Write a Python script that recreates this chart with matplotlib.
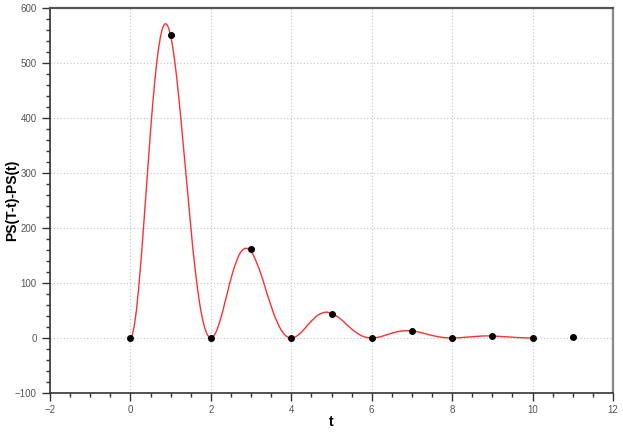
import numpy as np
import matplotlib
matplotlib.use("Agg")
import matplotlib.pyplot as plt
from matplotlib.ticker import MultipleLocator

# Observed points
t_pts = [0, 1, 2, 3, 4, 5, 6, 7, 8, 9, 10, 11]
y_pts = [0, 551, 0, 161, 0, 44, 0, 12.7, 0, 4.2, 0, 1.2]

# Curve values, t = 0 .. 10 step 0.05
curve_t_start, curve_t_step = 0.0, 0.05
curve_y = [0.0,6.1,24,51,87,129,176,226,277,327,376,422,463,498,527,549,564,571,571,564,550,530,504,474,439,402,362,321,280,240,201,164,131,100,73,50,32,17.6,7.7,1.9,0.0,1.8,6.8,14.6,25,37,50,65,79,94,108,121,132,142,151,157,161,163,163,161,157,152,144,135,126,115,104,92,80,69,58,47,37,29,21,14.4,9.1,5.0,2.2,0.5,0.0,0.5,1.9,4.2,7.1,10.5,14.4,18.4,23,27,31,34,38,41,43,45,46,47,47,46,45,43,41,39,36,33,30,26,23,19.6,16.4,13.4,10.7,8.2,6.0,4.1,2.6,1.4,0.6,0.2,0.0,0.1,0.6,1.2,2.0,3.0,4.1,5.3,6.5,7.7,8.8,9.9,10.8,11.6,12.3,12.8,13.2,13.4,13.4,13.2,12.9,12.4,11.8,11.1,10.3,9.4,8.5,7.5,6.6,5.6,4.7,3.8,3.1,2.3,1.7,1.2,0.7,0.4,0.2,0.0,0.0,0.0,0.2,0.3,0.6,0.9,1.2,1.5,1.8,2.2,2.5,2.8,3.1,3.3,3.5,3.7,3.8,3.8,3.8,3.8,3.7,3.5,3.4,3.2,2.9,2.7,2.4,2.1,1.9,1.6,1.3,1.1,0.9,0.7,0.5,0.3,0.2,0.1,0.1,0.0,0.0]
curve_t = curve_t_start + curve_t_step * np.arange(len(curve_y))

xlabel = "t"
ylabel = "PS(T-t)-PS(t)"

plt.rcParams['font.family'] = ['Liberation Sans', 'DejaVu Sans']

fig = plt.figure(figsize=(6.23, 4.40), dpi=100)
ax = fig.add_axes([50/623, 1-393/440, (613-50)/623, (393-8)/440])

ax.plot(curve_t, curve_y, color='#ff3030', lw=1.0, zorder=2)
ax.plot(t_pts, y_pts, 'o', color='black', ms=4, zorder=3)

ax.set_xlim(-2, 12)
ax.set_ylim(-100, 600)
ax.xaxis.set_major_locator(MultipleLocator(2))
ax.xaxis.set_minor_locator(MultipleLocator(0.5))
ax.yaxis.set_major_locator(MultipleLocator(100))
ax.yaxis.set_minor_locator(MultipleLocator(20))

ax.grid(True, which='major', linestyle=(0, (1, 2)), color='#c4c4c4', lw=0.8)
ax.set_axisbelow(True)

ax.tick_params(which='major', direction='out', length=5.5, width=1, colors='#333333',
               labelsize=7, labelcolor='#555555', pad=3, top=False, right=False)
ax.tick_params(axis='y', which='major', pad=4)
ax.tick_params(which='minor', direction='out', length=3, width=1, colors='#333333',
               top=False, right=False)
for s in ['left', 'bottom']:
    ax.spines[s].set_color('#333333')
    ax.spines[s].set_linewidth(1.2)
ax.spines['top'].set_color('#555555')
ax.spines['top'].set_linewidth(1.6)
ax.spines['right'].set_color('#888888')
ax.spines['right'].set_linewidth(1.6)

ax.set_xlabel(xlabel, fontsize=10, fontweight='bold', labelpad=0)
ax.set_ylabel(ylabel, fontsize=10, fontweight='bold')
ax.yaxis.set_label_coords(-0.055, 0.5)

fig.savefig('out.png', dpi=100)
